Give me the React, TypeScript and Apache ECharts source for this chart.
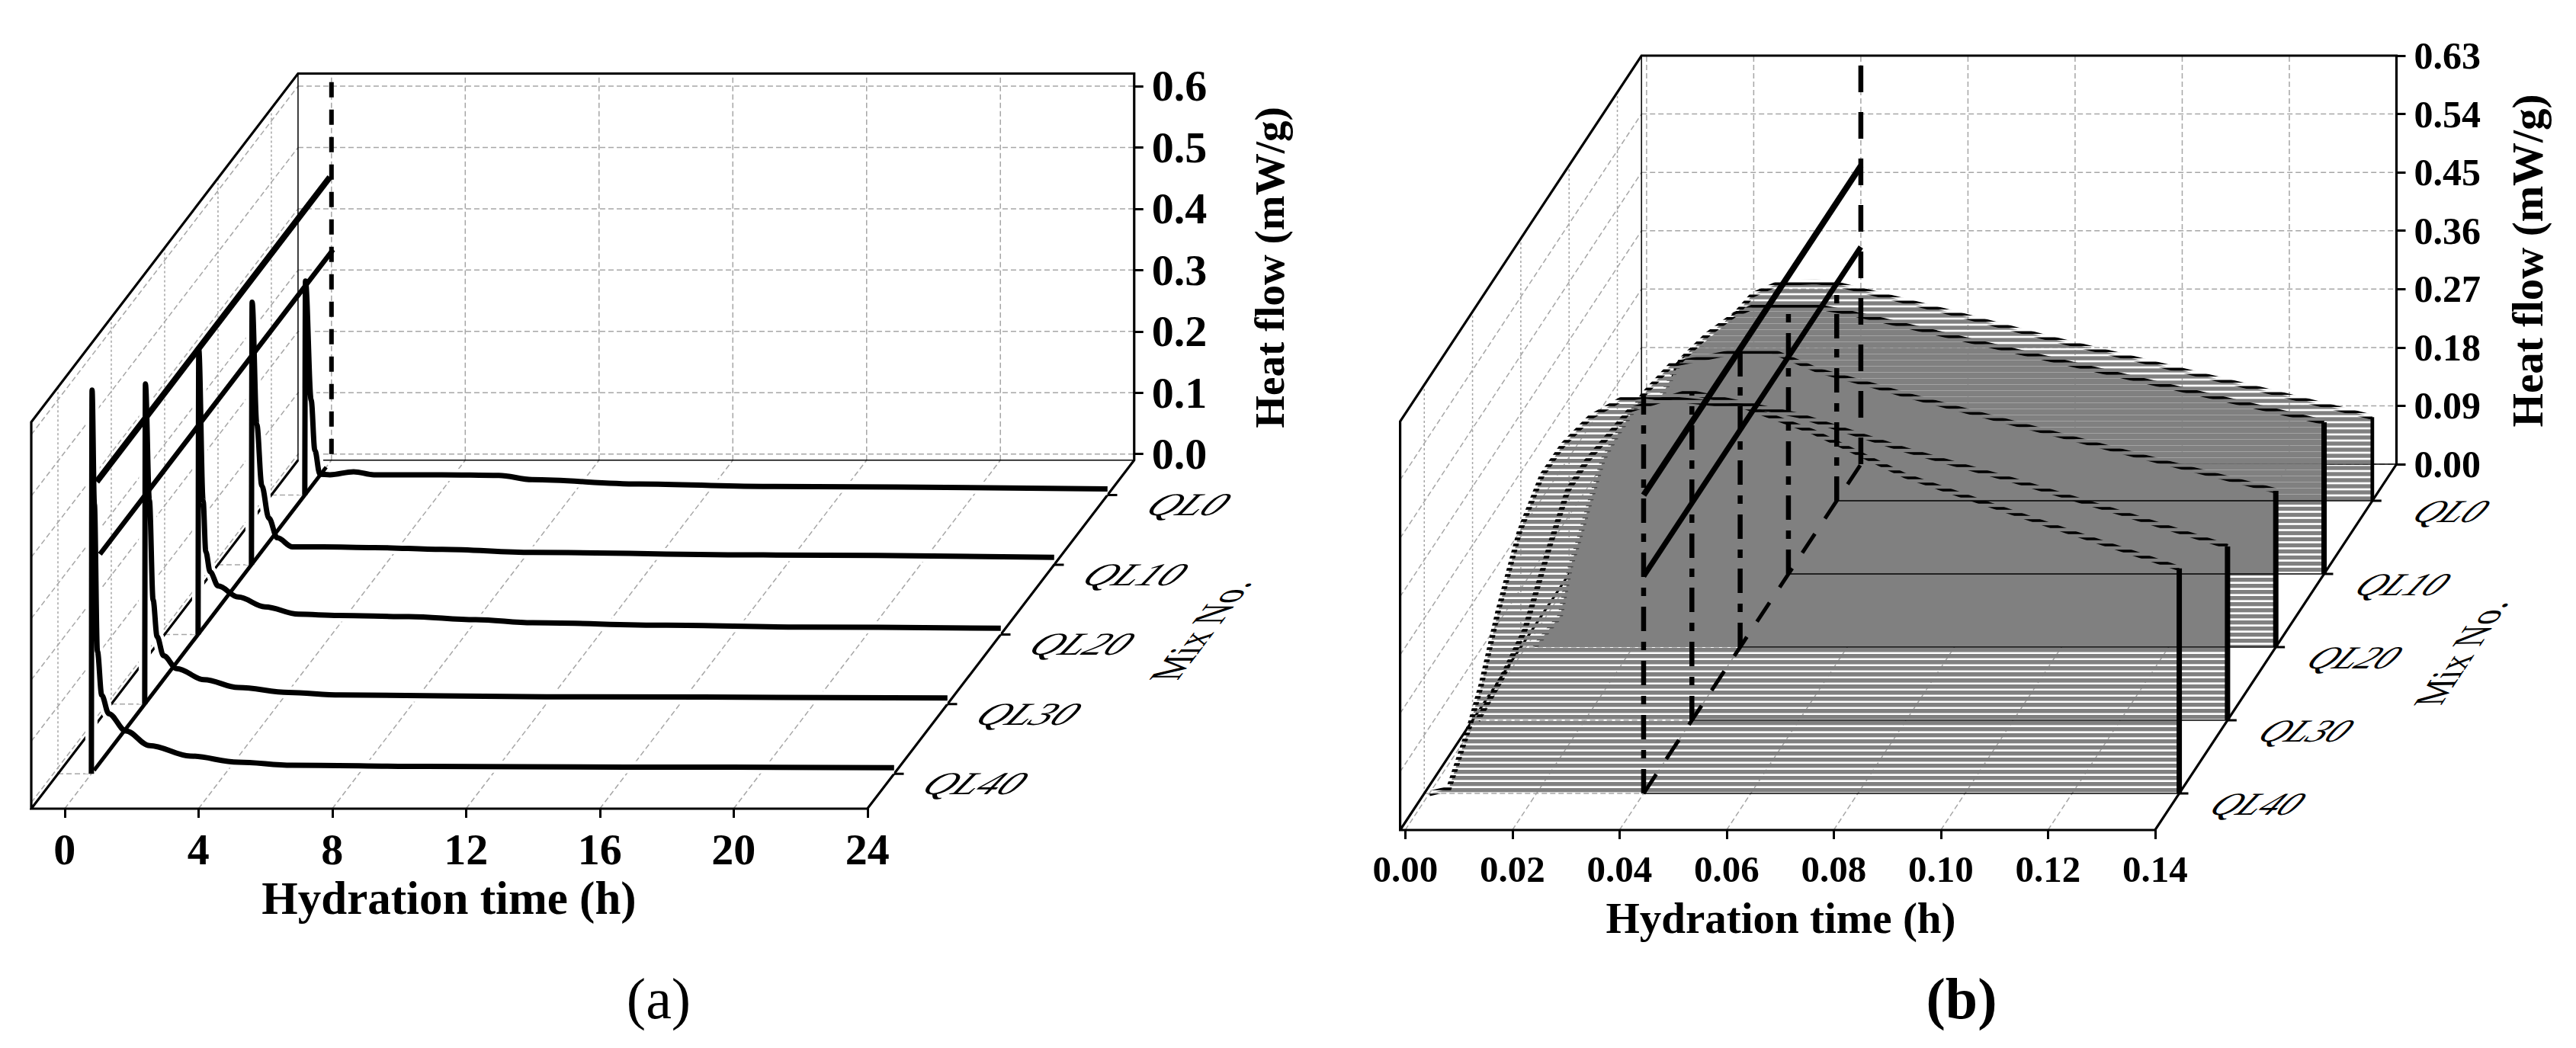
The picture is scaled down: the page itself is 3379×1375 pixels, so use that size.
import React, { useEffect, useRef } from "react";
import * as echarts from "echarts";

// ---------- Labels ----------
const mixNames = ["QL40", "QL30", "QL20", "QL10", "QL0"];
const mixDepths = [0.5, 1.5, 2.5, 3.5, 4.5];
const hourTicks = [0, 4, 8, 12, 16, 20, 24];
const flowTicksA = [0, 0.1, 0.2, 0.3, 0.4, 0.5, 0.6];
const earlyTicks = [0, 0.02, 0.04, 0.06, 0.08, 0.1, 0.12, 0.14];
const flowTicksB = [0, 0.09, 0.18, 0.27, 0.36, 0.45, 0.54, 0.63];

// ---------- Panel (a): 24 h heat flow ----------
const hoursQL40 = [0, 0.02, 0.09, 0.18, 0.31, 0.52, 1.03, 1.74, 2.96, 4.39, 6.0, 10, 16, 24];
const flowQL40 = [-0.01, 0.616, 0.43, 0.19, 0.118, 0.088, 0.06, 0.036, 0.019, 0.009, 0.004, 0.002, 0.001, 0.0];
const hoursQL30 = [0, 0.02, 0.14, 0.25, 0.37, 0.56, 0.96, 1.77, 2.8, 4.3, 5.85, 12, 24];
const flowQL30 = [-0.01, 0.512, 0.322, 0.16, 0.1, 0.069, 0.048, 0.03, 0.017, 0.009, 0.005, 0.002, 0.0];
const hoursQL20 = [0, 0.02, 0.15, 0.23, 0.36, 0.6, 1.2, 2, 3, 4.2, 6.3, 8.3, 10, 14, 18, 24];
const flowQL20 = [-0.01, 0.455, 0.208, 0.125, 0.092, 0.069, 0.051, 0.035, 0.023, 0.021, 0.019, 0.014, 0.009, 0.005, 0.002, 0.0];
const hoursQL10 = [0, 0.02, 0.16, 0.31, 0.52, 0.77, 1.23, 2.14, 3.67, 5.7, 8.4, 15.3, 24];
const flowQL10 = [-0.01, 0.418, 0.219, 0.119, 0.066, 0.034, 0.019, 0.019, 0.018, 0.015, 0.01, 0.006, 0.002];
const hoursQL0 = [0, 0.02, 0.19, 0.3, 0.45, 0.75, 1.46, 2.07, 4.1, 5.8, 6.8, 10, 13.7, 24];
const flowQL0 = [-0.01, 0.339, 0.145, 0.063, 0.024, 0.023, 0.028, 0.023, 0.023, 0.022, 0.015, 0.008, 0.004, 0.0];

// ---------- Panel (b): first 0.14 h ----------
const earlyQL40 = [0, 0.0036, 0.0077, 0.0097, 0.0128, 0.0168, 0.021, 0.0249, 0.03, 0.0357, 0.0401, 0.0591, 0.0718, 0.0888, 0.105, 0.12, 0.14];
const riseQL40 = [0, 0.007, 0.109, 0.168, 0.28, 0.403, 0.49, 0.537, 0.58, 0.607, 0.613, 0.596, 0.557, 0.49, 0.444, 0.402, 0.347];
const earlyQL30 = [0, 0.0045, 0.0088, 0.0135, 0.0168, 0.0204, 0.0285, 0.0393, 0.06, 0.0798, 0.1, 0.12, 0.14];
const riseQL30 = [0, 0.065, 0.139, 0.27, 0.354, 0.4, 0.479, 0.506, 0.47, 0.417, 0.37, 0.32, 0.268];
const earlyQL20 = [0.0016, 0.0064, 0.0083, 0.0097, 0.0116, 0.0144, 0.017, 0.022, 0.0272, 0.0395, 0.046, 0.0547, 0.0637, 0.0708, 0.08, 0.1, 0.12, 0.14];
const riseQL20 = [0, 0.048, 0.124, 0.16, 0.214, 0.289, 0.327, 0.39, 0.436, 0.456, 0.456, 0.426, 0.406, 0.389, 0.369, 0.326, 0.283, 0.241];
const earlyQL10 = [0.003, 0.008, 0.012, 0.016, 0.02, 0.025, 0.03, 0.0338, 0.0447, 0.0499, 0.056, 0.0607, 0.08, 0.1, 0.12, 0.14];
const riseQL10 = [0, 0.1, 0.19, 0.27, 0.33, 0.37, 0.4, 0.413, 0.413, 0.405, 0.394, 0.385, 0.348, 0.31, 0.272, 0.234];
const earlyQL0 = [0.002, 0.004, 0.008, 0.0104, 0.0151, 0.02, 0.0243, 0.0291, 0.036, 0.04, 0.0528, 0.06, 0.08, 0.1, 0.12, 0.14];
const riseQL0 = [0, 0.04, 0.15, 0.21, 0.243, 0.277, 0.3176, 0.335, 0.338, 0.334, 0.308, 0.293, 0.25, 0.21, 0.17, 0.129];

// Reference lines (constant heat-flow levels along the mix axis)
const levelsA = [0.455, 0.33];
const levelsB = [0.46, 0.335];

const SERIF = "'Liberation Serif', 'Times New Roman', serif";
const GREY = "#a6a6a6";

type Pt = [number, number];
type Proj = (t: number, v: number, d: number) => Pt;

const makeProj = (kx: number, ky: number): Proj => (t, v, d) => [t + d * kx, v - (5 - d) * ky];

function band(center: number, width: number, rgb: string) {
  const c = document.createElement("canvas");
  c.width = 2;
  c.height = 8;
  const g = c.getContext("2d")!;
  const a = center - width / 2;
  const b = center + width / 2;
  for (let r = 0; r < 8; r++) {
    let cov = 0;
    for (const s of [-16, -8, 0, 8]) {
      cov += Math.max(0, Math.min(r + 1, b + s) - Math.max(r, a + s));
    }
    g.fillStyle = `rgba(${rgb},${Math.min(1, cov)})`;
    g.fillRect(0, r, 2, 1);
  }
  return { image: c, repeat: "repeat", imageWidth: 2, imageHeight: 8 };
}

function segs(list: Pt[][]) {
  const out: any[] = [];
  list.forEach((s, i) => {
    if (i) out.push([null, null]);
    s.forEach((p) => out.push(p));
  });
  return out;
}

function lines(ax: number, list: Pt[][], width: number, color: any, dash?: number[], z = 2) {
  return {
    type: "line",
    xAxisIndex: ax,
    yAxisIndex: ax,
    data: segs(list),
    showSymbol: false,
    symbol: "none",
    silent: true,
    clip: false,
    z,
    connectNulls: false,
    lineStyle: { width, color, type: dash || "solid", cap: "butt", join: "miter" },
  };
}

function frame(ax: number, P: Proj, tMin: number, tMax: number, vMin: number, vMax: number, vTicks: number[], tTicks: number[], tStep: number, tFloorEnd: number) {
  const out: any[] = [];
  const wallV = vTicks.map((v) => [P(tMin, v, 0), P(tMin, v, 5)] as Pt[]);
  const backH = vTicks.map((v) => [P(tMin, v, 5), P(tMax, v, 5)] as Pt[]);
  const backT = tTicks.map((t) => [P(t, vMin, 5), P(t, vMax, 5)] as Pt[]);
  const floorT = tTicks.map((t) => [P(t, vMin, 0), P(t, vMin, 5)] as Pt[]);
  const wallD = mixDepths.map((d) => [P(tMin, vMin, d), P(tMin, vMax, d)] as Pt[]);
  const floorD = mixDepths.map((d) => [P(tMin, vMin, d), P(tFloorEnd, vMin, d)] as Pt[]);
  out.push(lines(ax, [...wallV, ...backH, ...backT, ...floorT, ...floorD], 1.5, GREY, [7, 4]));
  out.push(lines(ax, wallD, 1.5, GREY, [3, 3]));
  out.push(lines(ax, [[P(tMin, vMax, 5), P(tMin, vMin, 5), P(tMax, vMin, 5)], [P(tMin, vMin, 0), P(tMin, vMin, 5)]], 1.5, "#000"));
  out.push(lines(ax, [
    [P(tMin, vMin, 5), P(tMin, vMin, 0), P(tMax, vMin, 0), P(tMax, vMin, 5), P(tMax, vMax, 5), P(tMin, vMax, 5), P(tMin, vMax, 0), P(tMin, vMin, 0)],
  ], 3.2, "#000"));
  const dTicks = mixDepths.map((d) => [P(tMax, vMin, d), P(tMax + tStep, vMin, d)] as Pt[]);
  out.push(lines(ax, dTicks, 3, "#000", undefined, 6));
  return out;
}

function panelA(P: Proj) {
  const out = frame(0, P, -1, 24, -0.01, 0.6205, flowTicksA, hourTicks, 0.29, 0);
  const curves: [number[], number[]][] = [
    [hoursQL40, flowQL40],
    [hoursQL30, flowQL30],
    [hoursQL20, flowQL20],
    [hoursQL10, flowQL10],
    [hoursQL0, flowQL0],
  ];
  for (let i = 4; i >= 0; i--) {
    const [ts, vs] = curves[i];
    const pts = ts.map((t, k) => P(t, vs[k], mixDepths[i]));
    out.push({ ...lines(0, [pts], 16, "#fff", undefined, 3), smooth: 0.35, smoothMonotone: "x" });
    out.push({ ...lines(0, [pts], 7, "#000", undefined, 3), smooth: 0.35, smoothMonotone: "x" });
  }
  out.push(lines(0, [[P(0, -0.01, 0.55), P(0, -0.01, 4.9)]], 5, "#000", undefined, 4));
  out.push(lines(0, [[P(0, 0, 5), P(0, 0.62, 5)]], 6, "#000", [20, 16], 4));
  out.push(lines(0, [[P(0, levelsA[0], 0.6), P(0, levelsA[0], 4.97)]], 8, "#000", undefined, 5));
  out.push(lines(0, [[P(0, levelsA[1], 0.66), P(0, levelsA[1], 5.03)]], 6.5, "#000", undefined, 5));
  return out;
}

function panelB(P: Proj) {
  const out = frame(1, P, -0.00095, 0.14, 0, 0.63, flowTicksB, earlyTicks, 0.0017, 0.04);
  const curves: [number[], number[]][] = [
    [earlyQL40, riseQL40],
    [earlyQL30, riseQL30],
    [earlyQL20, riseQL20],
    [earlyQL10, riseQL10],
    [earlyQL0, riseQL0],
  ];
  const gaps = [0.67, 0.67, 4.67, 7.5, 2];
  const inks = [3, 3, 6.4, 1.8, 4.3];
  const areaZ = [3.4, 3.3, 3.2, 3.1, 3.0];
  const inkZ = [3.9, 3.9, 3.25, 3.15, 3.05];
  const ends = [7, 7, 7, 7, 4.8];
  for (let i = 4; i >= 0; i--) {
    const d = mixDepths[i];
    const [ts, vs] = curves[i];
    const pts = ts.map((t, k) => P(t, vs[k], d));
    const fill = band(gaps[i] + 4, 5.33, "128,128,128");
    const ink = band(inks[i], 3.6, "0,0,0");
    const base = P(0, 0, d)[1];
    out.push({
      type: "line",
      xAxisIndex: 1,
      yAxisIndex: 1,
      data: pts,
      showSymbol: false,
      symbol: "none",
      silent: true,
      clip: false,
      z: areaZ[i],
      lineStyle: { width: 0 },
      areaStyle: { color: fill, opacity: 1, origin: base },
    });
    out.push(lines(1, [pts], 7, ink, undefined, inkZ[i]));
    out.push(lines(1, [[P(0.04, 0, d), P(0.14, 0, d)]], 1.6, "#000", undefined, 4));
    out.push(lines(1, [[P(0.14, 0, d), P(0.14, vs[vs.length - 1], d)]], ends[i], "#000", undefined, 4));
    out.push(lines(1, [[P(0.04, 0, d), P(0.04, vs[ts.findIndex((t) => t >= 0.0393)], d)]], 6.5, "#000", [32, 14, 11, 14], 5));
  }
  out.push(lines(1, [[P(0.04, 0, 0.5), P(0.04, 0, 5)]], 5, "#000", [30, 24], 5));
  out.push(lines(1, [[P(0.04, 0, 5), P(0.04, 0.63, 5)]], 6.5, "#000", [35, 26], 5));
  out.push(lines(1, [[P(0.04, levelsB[0], 0.5), P(0.04, levelsB[0], 5)]], 8, "#000", undefined, 6));
  out.push(lines(1, [[P(0.04, levelsB[1], 0.5), P(0.04, levelsB[1], 5)]], 7, "#000", undefined, 6));
  return out;
}

function txt(text: string, x: number, y: number, size: number, extra: any = {}, weight = "bold", italic = false) {
  const { rotation, scaleX, skewX, skewY, ...rest } = extra;
  return {
    type: "text",
    x,
    y,
    rotation: rotation || 0,
    scaleX: scaleX || 1,
    skewX,
    skewY,
    z: 20,
    silent: true,
    style: {
      text,
      fontFamily: SERIF,
      fontSize: size,
      fontWeight: weight,
      fontStyle: italic ? "italic" : "normal",
      fill: "#000",
      textAlign: "center",
      textVerticalAlign: "middle",
      ...rest,
    },
  };
}

export default function App() {
  const ref = useRef<HTMLDivElement>(null);
  useEffect(() => {
    document.body.style.margin = "0";
    document.body.style.background = "#fff";
    const chart = echarts.init(ref.current!, undefined, { renderer: "svg" });
    const pxA = 43.88;
    const kxA = 70 / pxA;
    const kyA = 91.5 / 805;
    const pxB = 7035;
    const kxB = 63.4 / pxB;
    const kyB = 96 / 851;
    const PA = makeProj(kxA, kyA);
    const PB = makeProj(kxB, kyB);
    const tick = { show: true, length: 12, lineStyle: { color: "#000", width: 3 } };
    const hiddenLine = { show: false, onZero: false };
    const graphic: any[] = [
      txt("Hydration time (h)", 589, 1178, 61),
      txt("Heat flow (mW/g)", 1665, 351, 55, { rotation: Math.PI / 2 }),
      txt("(a)", 864, 1310, 76, {}, "normal"),
      txt("Hydration time (h)", 2336, 1204, 57),
      txt("Heat flow (mW/g)", 3315, 342, 57, { rotation: Math.PI / 2 }),
      txt("(b)", 2573, 1310, 76),
      txt("Mix No.", 1575, 828, 46, { rotation: 0.92, skewX: 0.65, scaleX: 1.05 }, "normal"),
      txt("Mix No.", 3228, 858, 46, { rotation: 0.99, skewX: 0.6, scaleX: 1.05 }, "normal"),
    ];
    mixNames.forEach((name, i) => {
      const d = mixDepths[i];
      graphic.push(txt(name, 1138 + 70 * d + 106, 1061 - 91.5 * d + 13, 42, { scaleX: 1.32, skewX: -0.65 }, "normal", true));
      graphic.push(txt(name, 2828 + 63.4 * d + 102, 1089 - 96 * d + 14, 42, { scaleX: 1.18, skewX: -0.65 }, "normal", true));
    });
    chart.setOption({
      animation: false,
      backgroundColor: "#fff",
      grid: [
        { left: 41, top: 96.5, width: 33 * pxA - 1.3, height: 964.5, show: false },
        { left: 1836.6, top: 73, width: 1306.9, height: 1016, show: false },
      ],
      xAxis: [
        {
          type: "value", gridIndex: 0, min: -1, max: 24 + 5 * kxA, position: "bottom",
          axisLine: hiddenLine, splitLine: { show: false },
          axisTick: { ...tick, customValues: hourTicks },
          axisLabel: { customValues: hourTicks, margin: 24, fontFamily: SERIF, fontWeight: "bold", fontSize: 58, color: "#000" },
        },
        {
          type: "value", gridIndex: 1, min: -0.00095, max: 0.14 + 5 * kxB, position: "bottom",
          axisLine: hiddenLine, splitLine: { show: false },
          axisTick: { ...tick, customValues: earlyTicks },
          axisLabel: { customValues: earlyTicks, margin: 27, fontFamily: SERIF, fontWeight: "bold", fontSize: 49, color: "#000", formatter: (v: number) => v.toFixed(2) },
        },
      ],
      yAxis: [
        {
          type: "value", gridIndex: 0, min: -0.01 - 5 * kyA, max: 0.6205, position: "right",
          axisLine: hiddenLine, splitLine: { show: false },
          axisTick: { ...tick, customValues: flowTicksA },
          axisLabel: { customValues: flowTicksA, margin: 23, fontFamily: SERIF, fontWeight: "bold", fontSize: 58, color: "#000", formatter: (v: number) => v.toFixed(1) },
        },
        {
          type: "value", gridIndex: 1, min: -5 * kyB, max: 0.63, position: "right",
          axisLine: hiddenLine, splitLine: { show: false },
          axisTick: { ...tick, customValues: flowTicksB },
          axisLabel: { customValues: flowTicksB, margin: 23, fontFamily: SERIF, fontWeight: "bold", fontSize: 50, color: "#000", formatter: (v: number) => v.toFixed(2) },
        },
      ],
      series: [...panelA(PA), ...panelB(PB)],
      graphic,
    });
    return () => chart.dispose();
  }, []);
  return <div ref={ref} style={{ width: 3379, height: 1375 }} />;
}
